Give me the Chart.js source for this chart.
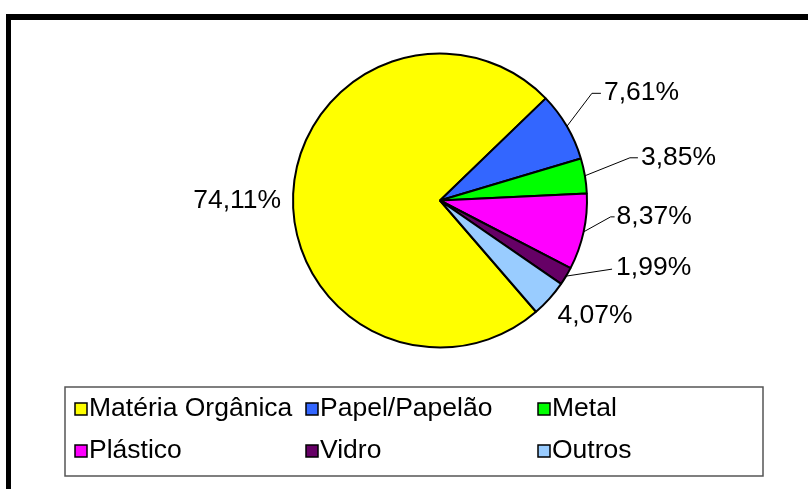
<!DOCTYPE html>
<html>
<head>
<meta charset="utf-8">
<script src="https://cdn.jsdelivr.net/npm/chart.js@4"></script>
<style>
  html, body { margin: 0; padding: 0; background: #fff; }
  #wrap { width: 808px; height: 489px; }
</style>
</head>
<body>
<div id="wrap"><canvas id="chart" width="808" height="489"></canvas></div>
<script>
// Composição dos resíduos (%)
const categories = ['Matéria Orgânica', 'Papel/Papelão', 'Metal', 'Plástico', 'Vidro', 'Outros'];
const percentages = [74.11, 7.61, 3.85, 8.37, 1.99, 4.07];
const sliceColors = ['#FFFF00', '#3366FF', '#00FF00', '#FF00FF', '#660066', '#99CCFF'];

// label placement relative to the slice's outer mid point (styling only)
const labelPlacement = [
  { dx: -12, dy: 7, align: 'right' },
  { dx: 37, dy: -33, elbow: [25, -33], lineEnd: 34 },
  { dx: 56, dy: -18, elbow: [45, -18], lineEnd: 53 },
  { dx: 33, dy: -15, elbow: [27, -15], lineEnd: 31 },
  { dx: 50, dy: -8, elbow: [46, -7] },
  { dx: 8, dy: 17, align: 'left' }
];

const FONT = '25px "Liberation Sans", Arial, sans-serif';
const TEXT_STRETCH = 1.06;
const LEGEND_STRETCH = 1.06;

function fmt(v) {
  return v.toFixed(2).replace('.', ',') + '%';
}

function drawText(ctx, txt, x, y, align, stretch) {
  ctx.save();
  ctx.translate(x, y);
  ctx.scale(stretch || TEXT_STRETCH, 1);
  ctx.textAlign = align || 'left';
  ctx.textBaseline = 'middle';
  ctx.fillText(txt, 0, 0);
  ctx.restore();
}

const decorPlugin = {
  id: 'decor',
  beforeDraw(chart) {
    const ctx = chart.ctx;
    ctx.save();
    // outer frame (top and left thick bars)
    ctx.fillStyle = '#000';
    ctx.fillRect(6, 14, 808 - 6, 6);
    ctx.fillRect(6, 14, 5, 489 - 14);
    ctx.restore();
  },
  afterDraw(chart) {
    const ctx = chart.ctx;
    const meta = chart.getDatasetMeta(0);
    ctx.save();
    ctx.font = FONT;
    ctx.fillStyle = '#000';
    ctx.strokeStyle = '#000';
    ctx.lineWidth = 1;

    // data labels with leader lines
    meta.data.forEach((arc, i) => {
      const p = arc.getProps(['x', 'y', 'startAngle', 'endAngle', 'outerRadius'], true);
      const mid = (p.startAngle + p.endAngle) / 2;
      const ex = p.x + Math.cos(mid) * p.outerRadius;
      const ey = p.y + Math.sin(mid) * p.outerRadius;
      const lp = labelPlacement[i];
      if (lp.elbow) {
        ctx.beginPath();
        ctx.moveTo(ex, ey);
        ctx.lineTo(ex + lp.elbow[0], ey + lp.elbow[1]);
        if (lp.lineEnd) ctx.lineTo(ex + lp.lineEnd, ey + lp.elbow[1]);
        ctx.stroke();
      }
      drawText(ctx, fmt(percentages[i]), ex + lp.dx, ey + lp.dy, lp.align || 'left');
    });

    // legend box
    ctx.strokeStyle = '#555';
    ctx.lineWidth = 1.5;
    ctx.strokeRect(65, 387, 698, 89);

    const colX = [75, 306, 538];
    const rowY = [408, 450];
    categories.forEach((name, i) => {
      const x = colX[i % 3];
      const y = rowY[Math.floor(i / 3)];
      ctx.fillStyle = sliceColors[i];
      ctx.fillRect(x, y - 5, 12, 12);
      ctx.strokeStyle = '#000';
      ctx.lineWidth = 1.5;
      ctx.strokeRect(x, y - 5, 12, 12);
      ctx.fillStyle = '#000';
      drawText(ctx, name, x + 14, y + 1, 'left', LEGEND_STRETCH);
    });
    ctx.restore();
  }
};

new Chart(document.getElementById('chart'), {
  type: 'pie',
  data: {
    labels: categories,
    datasets: [{
      data: percentages,
      backgroundColor: sliceColors,
      borderColor: '#000',
      borderWidth: 2
    }]
  },
  options: {
    responsive: false,
    animation: false,
    rotation: 139.2,
    layout: {
      padding: { left: 292, right: 220, top: 52, bottom: 140 }
    },
    plugins: {
      legend: { display: false },
      tooltip: { enabled: false }
    }
  },
  plugins: [decorPlugin]
});
</script>
</body>
</html>
